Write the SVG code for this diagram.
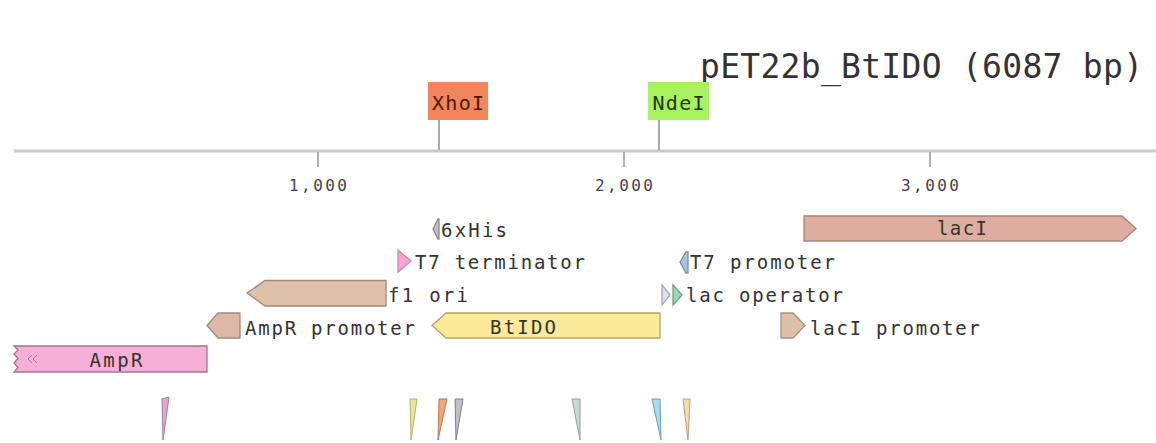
<svg xmlns="http://www.w3.org/2000/svg" width="1156" height="443" viewBox="0 0 1156 443">
<style>
text{font-family:"DejaVu Sans Mono","Liberation Mono",monospace;fill:#333}
.lbl{font-size:19px}
.tick{font-size:16px;fill:#444}
.enz{font-size:20px}
.feat{stroke-width:1.3}
.mark{stroke-width:1}
</style>
<rect width="1156" height="443" fill="#fff"/>
<text x="700" y="78" font-size="33" textLength="443" lengthAdjust="spacing">pET22b_BtIDO (6087 bp)</text>

<g id="ruler">
  <line x1="14" y1="151" x2="1156" y2="151" stroke="#c8c8c8" stroke-width="3"/>
  <g stroke="#888" stroke-width="1.3">
    <line x1="318" y1="152" x2="318" y2="167"/>
    <line x1="624" y1="152" x2="624" y2="167"/>
    <line x1="930" y1="152" x2="930" y2="167"/>
  </g>
  <text class="tick" x="318" y="191" text-anchor="middle" textLength="58">1,000</text>
  <text class="tick" x="624" y="191" text-anchor="middle" textLength="58">2,000</text>
  <text class="tick" x="930" y="191" text-anchor="middle" textLength="58">3,000</text>
</g>

<g id="connectors" stroke="#aaa" stroke-width="2">
  <line x1="439" y1="120" x2="439" y2="150"/>
  <line x1="659" y1="120" x2="659" y2="150"/>
</g>

<g id="XhoI">
  <rect x="428" y="82" width="60" height="38" fill="#f2855a"/>
  <text class="enz" x="458" y="110" text-anchor="middle" style="fill:#4a1a0a" textLength="52">XhoI</text>
</g>
<g id="NdeI">
  <rect x="648" y="82" width="61" height="38" fill="#a8f260"/>
  <text class="enz" x="678.5" y="110" text-anchor="middle" style="fill:#1e3a0a" textLength="52">NdeI</text>
</g>

<g id="f6xHis">
  <path class="feat" d="M433,229 L438,219 L439,219 L439,239 L438,239 Z" fill="#c0c0c0" stroke="#8a8a8a"/>
  <text class="lbl" x="441" y="237" textLength="66">6xHis</text>
</g>
<g id="lacI">
  <path class="feat" d="M804,216 L1122,216 L1136,228.5 L1122,241 L804,241 Z" fill="#ddae9f" stroke="#a48378"/>
  <text class="lbl" x="962" y="235" text-anchor="middle" textLength="50">lacI</text>
</g>
<g id="T7terminator">
  <path class="feat" d="M398,250 L411,261 L398,272 Z" fill="#f6a6d4" stroke="#c888aa"/>
  <text class="lbl" x="415" y="269" textLength="170">T7 terminator</text>
</g>
<g id="T7promoter">
  <path class="feat" d="M680,262 L686,252 L688,252 L688,273 L686,273 Z" fill="#a9c2d6" stroke="#7892a6"/>
  <text class="lbl" x="690" y="269" textLength="145">T7 promoter</text>
</g>
<g id="f1ori">
  <path class="feat" d="M247,293 L265,280.5 L386,280.5 L386,306 L265,306 Z" fill="#dfc0a8" stroke="#a48a78"/>
  <text class="lbl" x="388" y="302" textLength="80">f1 ori</text>
</g>
<g id="lacoperator">
  <path class="feat" d="M662,285 L670,295 L662,305 Z" fill="#dde2ee" stroke="#a0a8bc"/>
  <path class="feat" d="M673,285 L682,295 L673,305 Z" fill="#9fd6b8" stroke="#6aa486"/>
  <text class="lbl" x="686" y="302" textLength="157">lac operator</text>
</g>
<g id="AmpRpromoter">
  <path class="feat" d="M207,325.5 L218,313 L240,313 L240,338 L218,338 Z" fill="#ddb8a6" stroke="#a48a7a"/>
  <text class="lbl" x="245" y="335" textLength="170">AmpR promoter</text>
</g>
<g id="BtIDO">
  <path class="feat" d="M432,325.5 L446,313 L660,313 L660,338 L446,338 Z" fill="#fbea98" stroke="#b4a464"/>
  <text class="lbl" x="523" y="334" text-anchor="middle" textLength="66">BtIDO</text>
</g>
<g id="lacIpromoter">
  <path class="feat" d="M781,313 L793,313 L805,325.5 L793,338 L781,338 Z" fill="#dcc0a8" stroke="#a8927e"/>
  <text class="lbl" x="810" y="335" textLength="170">lacI promoter</text>
</g>
<g id="AmpR">
  <path class="feat" d="M14,346 L207,346 L207,372 L14,372 L18,367.5 L14,363 L18,358.5 L14,354 L18,350 Z" fill="#f6afd6" stroke="#a0788e"/>
  <path d="M32,355 L28,359 L32,363 M37,355 L33,359 L37,363" fill="none" stroke="#9c7c9a" stroke-width="1"/>
  <text class="lbl" x="116" y="367" text-anchor="middle" textLength="53">AmpR</text>
</g>

<g id="primers">
  <path class="mark" d="M162,399 L169,397 L163,440 Z" fill="#e6a6c6" stroke="#b07a98"/>
  <path class="mark" d="M410,399 L417,399 L411,440 Z" fill="#e6e6a0" stroke="#b4b46e"/>
  <path class="mark" d="M439,399 L447,399 L438,440 Z" fill="#f0a878" stroke="#b8784e"/>
  <path class="mark" d="M455,399 L463,399 L456,440 Z" fill="#c0c0c8" stroke="#80808c"/>
  <path class="mark" d="M572,399 L580,399 L580,440 Z" fill="#ccd8d4" stroke="#8ea09a"/>
  <path class="mark" d="M652,399 L660,399 L661,440 Z" fill="#a8dcec" stroke="#6aa0b4"/>
  <path class="mark" d="M683,399 L690,399 L688,440 Z" fill="#f0e0b0" stroke="#b4a474"/>
</g>
</svg>
